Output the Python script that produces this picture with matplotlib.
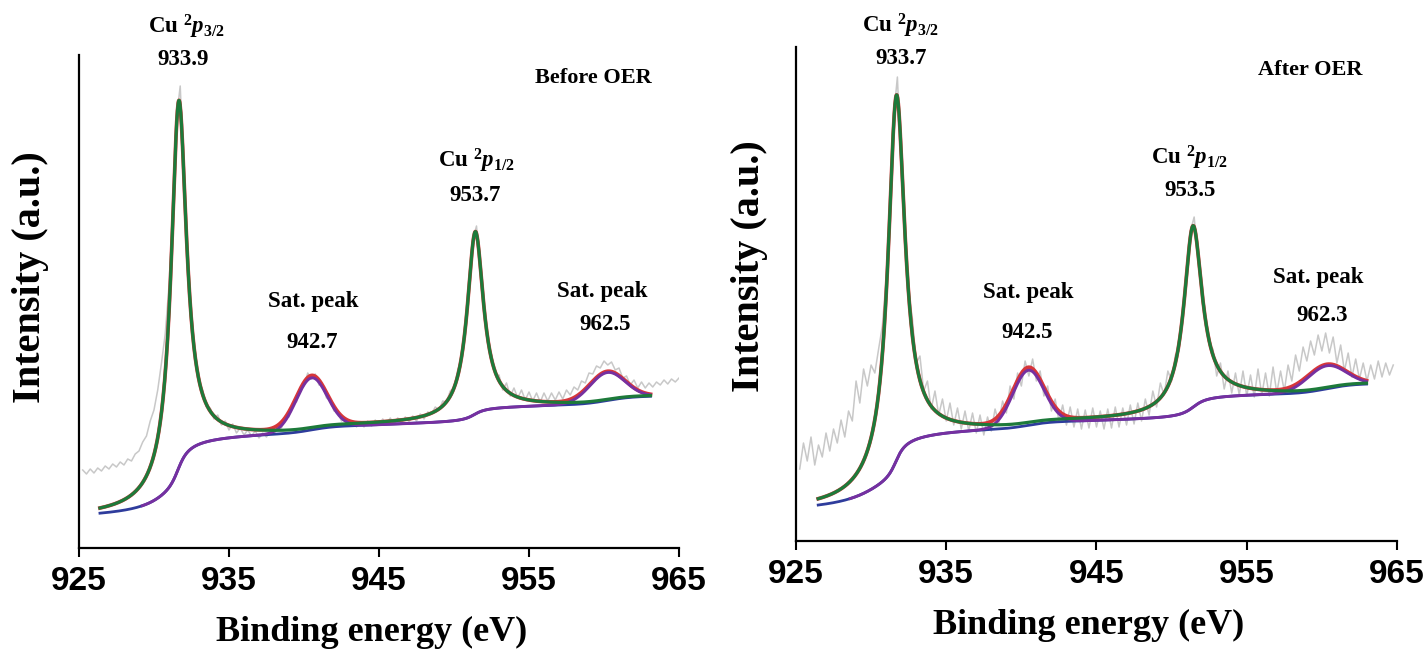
import math
import numpy as np
import matplotlib
matplotlib.use('Agg')
import matplotlib.pyplot as plt

# bold serif for the peak labels, italic bold p inside the math text
plt.rcParams['mathtext.fontset'] = 'custom'
plt.rcParams['mathtext.rm'] = 'Liberation Serif:bold'
plt.rcParams['mathtext.it'] = 'Liberation Serif:italic:bold'
plt.rcParams['mathtext.bf'] = 'Liberation Serif:bold'

# ---- data ----
energy_ticks = [925, 935, 945, 955, 965]

# raw spectrum (grey), one value every 0.25 eV from 925.25 eV
before_raw = [
    78, 74, 79, 75, 80, 77, 82, 79,
    84, 81, 86, 83, 89, 87, 94, 97,
    106, 112, 127, 138, 158, 185, 214, 262,
    336, 430, 462, 372, 287, 222, 196, 166,
    158, 141, 140, 129, 133, 123, 127, 118,
    124, 115, 120, 113, 118, 112, 117, 110,
    115, 111, 117, 114, 121, 120, 131, 131,
    145, 146, 160, 162, 175, 169, 174, 163,
    162, 150, 148, 137, 136, 127, 130, 122,
    127, 121, 126, 121, 127, 122, 128, 123,
    129, 124, 130, 124, 130, 125, 131, 126,
    132, 127, 134, 129, 136, 134, 141, 138,
    147, 146, 157, 160, 178, 190, 224, 258,
    308, 322, 280, 244, 206, 193, 173, 173,
    158, 165, 152, 160, 150, 158, 148, 156,
    147, 155, 146, 155, 147, 155, 148, 156,
    149, 158, 153, 161, 158, 167, 165, 175,
    174, 182, 180, 187, 183, 186, 178, 180,
    170, 172, 163, 168, 160, 166, 160, 165,
    161, 166, 163, 168, 164, 169, 166, 170,
]
after_raw = [
    72, 98, 80, 104, 76, 96, 84, 108,
    90, 112, 98, 121, 104, 130, 120, 160,
    138, 172, 155, 176, 168, 192, 215, 262,
    330, 425, 464, 375, 300, 250, 222, 178,
    185, 150, 160, 132, 150, 126, 142, 120,
    138, 116, 133, 112, 130, 110, 128, 108,
    126, 106, 124, 110, 132, 118, 140, 128,
    155, 142, 168, 155, 180, 165, 182, 160,
    170, 145, 155, 130, 142, 120, 136, 116,
    134, 114, 132, 112, 131, 113, 133, 114,
    130, 112, 132, 113, 134, 114, 133, 116,
    136, 117, 138, 120, 142, 126, 150, 134,
    158, 146, 170, 160, 186, 190, 228, 262,
    310, 324, 284, 250, 225, 196, 192, 165,
    178, 152, 170, 148, 168, 146, 170, 145,
    166, 144, 172, 146, 168, 145, 174, 148,
    170, 150, 176, 160, 186, 170, 194, 180,
    200, 186, 206, 190, 208, 188, 204, 178,
    196, 170, 188, 164, 182, 162, 178, 160,
    176, 162, 180, 164, 178, 166, 176,
]
raw_start, raw_step = 925.25, 0.25

# fitted components: Cu 2p main lines (Lorentzian) and satellites (Gaussian)
before_main_center = [931.65, 951.42]
before_main_height = [367, 182]
before_main_hwhm = [0.62, 0.66]
before_sat_center = [940.5, 960.2]
before_sat_height = [52, 28]
before_sat_sigma = [1.04, 1.17]
# Shirley-type background: offset, slope, steps under the main lines
# (a broad and a narrow part for 2p3/2) and small steps under the satellites
before_bg_range = [926.4, 963.1]
before_bg_offset, before_bg_slope = 30.0, 0.4
before_step_center = [930.5, 931.6, 951.35]
before_step_width = [1.5, 0.55, 0.6]
before_step_height = [25, 57, 15]
before_sat_step = [5, 6]

after_main_center = [931.68, 951.42]
after_main_height = [365, 181]
after_main_hwhm = [0.68, 0.74]
after_sat_center = [940.46, 960.3]
after_sat_height = [55, 23]
after_sat_sigma = [1.04, 1.27]
after_bg_range = [926.48, 962.97]
after_bg_offset, after_bg_slope = 28.4, 0.25
after_step_center = [930.2, 931.65, 951.45]
after_step_width = [2.0, 0.5, 0.7]
after_step_height = [38, 46, 24]
after_sat_step = [5, 8]

before_peak_names = ['Cu $^{2}p_{3/2}$', 'Sat. peak', 'Cu $^{2}p_{1/2}$', 'Sat. peak']
before_peak_values = ['933.9', '942.7', '953.7', '962.5']
after_peak_names = ['Cu $^{2}p_{3/2}$', 'Sat. peak', 'Cu $^{2}p_{1/2}$', 'Sat. peak']
after_peak_values = ['933.7', '942.5', '953.5', '962.3']

erf = np.vectorize(math.erf)


def lorentz(x, c, h, w):
    return h / (1 + ((x - c) / w) ** 2)


def gauss(x, c, h, s):
    return h * np.exp(-0.5 * ((x - c) / s) ** 2)


def arctan_step(x, c, w):
    return 0.5 + np.arctan((x - c) / w) / np.pi


def erf_step(x, c, s):
    return 0.5 * (1 + erf((x - c) / (s * math.sqrt(2))))


def draw_panel(ax, raw, p, purple_from, ytop):
    gx = raw_start + raw_step * np.arange(len(raw))
    x = np.linspace(p['range'][0], p['range'][1], 1500)

    bg = p['offset'] + p['slope'] * (x - p['range'][0])
    for c, w, h in zip(p['step_c'], p['step_w'], p['step_h']):
        bg = bg + h * arctan_step(x, c, w)
    for c, s, h in zip(p['sat_c'], p['sat_s'], p['sat_step']):
        bg = bg + h * erf_step(x, c, s)

    mains = sum(lorentz(x, c, h, w) for c, h, w in zip(p['main_c'], p['main_h'], p['main_w']))
    sats = sum(gauss(x, c, h, s) for c, h, s in zip(p['sat_c'], p['sat_h'], p['sat_s']))
    green = bg + mains
    red = green + sats
    purple = bg + sats

    ax.plot(gx, raw, color='#c8c8c8', lw=1.1)
    ax.plot(x, red, color='#d6363a', lw=2.7)
    ax.plot(x, bg, color='#2e3c9c', lw=2.0)
    m = x >= purple_from
    ax.plot(x[m], purple[m], color='#7630a0', lw=2.1)
    ax.plot(x, green, color='#1d7a3a', lw=2.3)

    ax.set_xlim(925, 965)
    ax.set_ylim(0, ytop)
    ax.set_xticks(energy_ticks)
    ax.set_yticks([])
    for s in ['top', 'right']:
        ax.spines[s].set_visible(False)
    for s in ['left', 'bottom']:
        ax.spines[s].set_linewidth(1.6)
    ax.tick_params(axis='x', direction='out', length=6.5, width=1.5,
                   labelsize=24, pad=6.5)
    for t in ax.get_xticklabels():
        t.set_fontfamily('Liberation Sans')
        t.set_fontweight('bold')


def label(ax, x, y, s, size=16.5):
    ax.text(x, y, s, ha='center', va='center', fontsize=size, fontweight='bold',
            family='Liberation Serif', clip_on=False)


before = dict(range=before_bg_range, offset=before_bg_offset, slope=before_bg_slope,
              step_c=before_step_center, step_w=before_step_width,
              step_h=before_step_height, sat_step=before_sat_step,
              main_c=before_main_center, main_h=before_main_height,
              main_w=before_main_hwhm, sat_c=before_sat_center,
              sat_h=before_sat_height, sat_s=before_sat_sigma)
after = dict(range=after_bg_range, offset=after_bg_offset, slope=after_bg_slope,
             step_c=after_step_center, step_w=after_step_width,
             step_h=after_step_height, sat_step=after_sat_step,
             main_c=after_main_center, main_h=after_main_height,
             main_w=after_main_hwhm, sat_c=after_sat_center,
             sat_h=after_sat_height, sat_s=after_sat_sigma)

fig = plt.figure(figsize=(14.28, 6.53), dpi=100)
ax1 = fig.add_axes([0.0553, 0.1608, 0.4202, 0.7550])
ax2 = fig.add_axes([0.5574, 0.1715, 0.4209, 0.7565])

draw_panel(ax1, before_raw, before, 929.2, 493)
draw_panel(ax2, after_raw, after, 928.6, 494)

# peak annotations (name above, binding energy below)
name_pos1 = [(932.13, 521), (940.6, 246), (951.47, 387), (959.87, 256)]
value_pos1 = [(931.93, 488), (940.53, 205), (951.4, 352), (960.07, 223)]
name_pos2 = [(931.92, 515), (940.44, 249), (951.21, 383), (959.73, 264)]
value_pos2 = [(931.99, 483), (940.37, 209), (951.21, 351), (959.99, 226)]
for (nx, ny), (vx, vy), n, v in zip(name_pos1, value_pos1, before_peak_names, before_peak_values):
    label(ax1, nx, ny, n)
    label(ax1, vx, vy, v)
for (nx, ny), (vx, vy), n, v in zip(name_pos2, value_pos2, after_peak_names, after_peak_values):
    label(ax2, nx, ny, n)
    label(ax2, vx, vy, v)
label(ax1, 959.27, 470, 'Before OER', size=16)
label(ax2, 959.2, 471, 'After OER', size=16)

for ax, ly, ycx, ycy in [(ax1, -0.171, -0.08, 0.55), (ax2, -0.172, -0.077, 0.557)]:
    ax.set_xlabel('Binding energy (eV)', fontsize=26, fontweight='bold',
                  family='Liberation Serif')
    ax.xaxis.set_label_coords(0.487, ly)
    ax.xaxis.label.set_va('center')
    ax.set_ylabel('Intensity (a.u.)', fontsize=29, fontweight='bold',
                  family='Liberation Serif')
    ax.yaxis.set_label_coords(ycx, ycy)
    ax.yaxis.label.set_va('center')

fig.savefig('out.png', dpi=100)
